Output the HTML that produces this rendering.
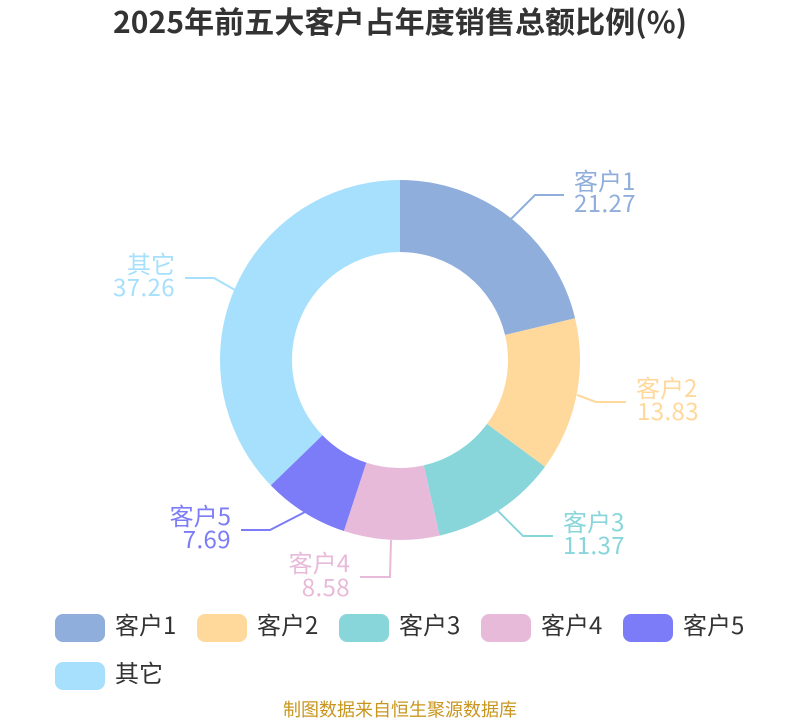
<!DOCTYPE html>
<html><head><meta charset="utf-8"><style>
html,body{margin:0;padding:0;background:#fff}
svg{display:block}
text{font-family:"Noto Sans CJK SC","Liberation Sans",sans-serif}
.n{letter-spacing:.4px}
</style></head><body>
<svg width="800" height="720" viewBox="0 0 800 720" xmlns="http://www.w3.org/2000/svg">
<rect width="800" height="720" fill="#fff"/>
<text x="113" y="33" textLength="574" lengthAdjust="spacing" font-size="30" font-weight="bold" fill="#333">2025年前五大客户占年度销售总额比例(%)</text>
<g fill="none" stroke-width="72" transform="rotate(-90 400 360)">
<circle cx="400" cy="360" r="144" pathLength="100" stroke="#a6e0fc" stroke-dasharray="37.26 62.74" stroke-dashoffset="-62.74"/>
<circle cx="400" cy="360" r="144" pathLength="100" stroke="#8faedb" stroke-dasharray="21.27 78.73" stroke-dashoffset="0"/>
<circle cx="400" cy="360" r="144" pathLength="100" stroke="#ffd89c" stroke-dasharray="13.83 86.17" stroke-dashoffset="-21.27"/>
<circle cx="400" cy="360" r="144" pathLength="100" stroke="#88d6da" stroke-dasharray="11.37 88.63" stroke-dashoffset="-35.10"/>
<circle cx="400" cy="360" r="144" pathLength="100" stroke="#e8bada" stroke-dasharray="8.58 91.42" stroke-dashoffset="-46.47"/>
<circle cx="400" cy="360" r="144" pathLength="100" stroke="#7c7cf8" stroke-dasharray="7.69 92.31" stroke-dashoffset="-55.05"/>
</g>
<g fill="none" stroke-width="2">
<polyline points="511,219 535,195 564,195" stroke="#8faedb"/>
<polyline points="577,395 596,402 626,402" stroke="#ffd89c"/>
<polyline points="498,511 523,536 553,536" stroke="#88d6da"/>
<polyline points="391,540 390,577 360,577" stroke="#e8bada"/>
<polyline points="305,512 270,530 241,530" stroke="#7c7cf8"/>
<polyline points="235,290 214,278 185,278" stroke="#a6e0fc"/>
</g>
<g font-size="24">
<text x="574" y="190" fill="#8faedb">客户1</text><text class="n" x="574" y="212" fill="#8faedb">21.27</text>
<text x="636" y="397" fill="#ffd89c">客户2</text><text class="n" x="637" y="420" fill="#ffd89c">13.83</text>
<text x="563" y="531" fill="#88d6da">客户3</text><text class="n" x="563" y="554" fill="#88d6da">11.37</text>
<g text-anchor="end">
<text x="350" y="572" fill="#e8bada">客户4</text><text class="n" x="350" y="596" fill="#e8bada">8.58</text>
<text x="231" y="525" fill="#7c7cf8">客户5</text><text class="n" x="231" y="548" fill="#7c7cf8">7.69</text>
<text x="175" y="273" fill="#a6e0fc">其它</text><text class="n" x="175" y="296" fill="#a6e0fc">37.26</text>
</g>
</g>
<g>
<rect x="55" y="614" width="50" height="28" rx="8" fill="#8faedb"/>
<rect x="197" y="614" width="50" height="28" rx="8" fill="#ffd89c"/>
<rect x="339" y="614" width="50" height="28" rx="8" fill="#88d6da"/>
<rect x="481" y="614" width="50" height="28" rx="8" fill="#e8bada"/>
<rect x="623" y="614" width="50" height="28" rx="8" fill="#7c7cf8"/>
<rect x="55" y="662" width="50" height="28" rx="8" fill="#a6e0fc"/>
</g>
<g font-size="24" fill="#333">
<text x="115" y="634">客户1</text>
<text x="257" y="634">客户2</text>
<text x="399" y="634">客户3</text>
<text x="541" y="634">客户4</text>
<text x="683" y="634">客户5</text>
<text x="115" y="682">其它</text>
</g>
<text x="400" y="716" text-anchor="middle" font-size="18" fill="#c8961e">制图数据来自恒生聚源数据库</text>
</svg>
</body></html>
